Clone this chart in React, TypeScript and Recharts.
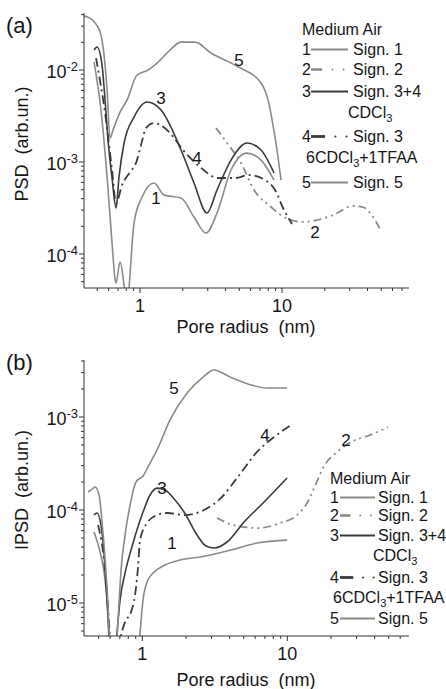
import React from 'react';
import { LineChart, Line, XAxis, YAxis } from 'recharts';

const FONT = '"Liberation Sans", Arial, sans-serif';
const GRAY = '#8a8a8a';
const DARK = '#3a3a3a';
const AXIS = '#333';
const TXT = '#151515';

// ---------- Panel (a): PSD ----------
const psd1: number[][] = [
  [0.4745, 0.01222], [0.531, 0.00367], [0.586, 0.000687], [0.635, 0.000132], [0.667, 5.35e-5],
  [0.678, 4.84e-5], [0.723, 8.18e-5], [0.81, 3.16e-5], [0.907, 0.000217], [1.033, 0.000417],
  [1.255, 0.000591], [1.476, 0.000438], [1.944, 0.000406], [2.40, 0.000252], [2.916, 0.000169],
  [3.485, 0.000279], [4.373, 0.000819], [5.668, 0.00125], [7.114, 0.00105], [8.785, 0.000637],
];
const psd2: number[][] = [
  [3.43, 0.00234], [4.10, 0.00161], [5.144, 0.000976], [6.35, 0.000497], [8.366, 0.000324],
  [10.33, 0.000252], [14.06, 0.000223], [16.53, 0.000229], [22.87, 0.000265], [31.6, 0.000333],
  [37.2, 0.000324], [43.75, 0.000252], [49.0, 0.000187],
];
const psd3: number[][] = [
  [0.4745, 0.0165], [0.498, 0.0178], [0.540, 0.01133], [0.567, 0.00472], [0.595, 0.00173],
  [0.635, 0.00067], [0.678, 0.000316], [0.711, 0.000687], [0.772, 0.00161], [0.907, 0.00308],
  [1.12, 0.00449], [1.406, 0.00367], [1.944, 0.00135], [2.40, 0.000591], [2.964, 0.000279],
  [3.485, 0.000497], [4.373, 0.00105], [5.668, 0.00161], [7.114, 0.00135], [8.785, 0.000759],
];
const psd4: number[][] = [
  [0.49, 0.0135], [0.567, 0.00341], [0.635, 0.000819], [0.678, 0.000358], [0.747, 0.000562],
  [0.85, 0.000778], [0.937, 0.000976], [1.016, 0.00153], [1.102, 0.00234], [1.255, 0.00265],
  [1.429, 0.00246], [1.626, 0.00207], [2.008, 0.00135], [2.646, 0.000883], [3.542, 0.00067],
  [4.667, 0.00067], [5.857, 0.000722], [7.59, 0.000637], [8.93, 0.000497], [10.33, 0.0003],
  [11.76, 0.000212],
];
const psd5: number[][] = [
  [0.403, 0.0386], [0.4445, 0.0367], [0.49, 0.0316], [0.531, 0.024], [0.558, 0.01455],
  [0.586, 0.00606], [0.615, 0.00182], [0.645, 0.00223], [0.723, 0.00349], [0.81, 0.00472],
  [0.952, 0.00883], [1.14, 0.01], [1.317, 0.0119], [1.626, 0.0165], [1.944, 0.0201],
  [2.44, 0.0201], [3.162, 0.0153], [4.82, 0.011], [7.11, 0.00722], [7.97, 0.00472],
  [8.64, 0.00252], [9.22, 0.00135], [9.84, 0.000637],
];

// ---------- Panel (b): IPSD ----------
const ipsd1: number[][] = [
  [0.4644, 5.8e-5], [0.503, 3.9e-5], [0.5444, 2.15e-5], [0.571, 1.08e-5], [0.5985, 3.13e-6],
  [0.78, 1e-7], [0.964, 4.75e-6], [1.011, 1.08e-5], [1.077, 1.68e-5], [1.204, 2.15e-5],
  [1.434, 2.56e-5], [1.82, 2.9e-5], [2.5, 3.13e-5], [3.17, 3.37e-5], [4.09, 3.72e-5],
  [6.18, 4.42e-5], [9.95, 4.75e-5],
];
const ipsd2: number[][] = [
  [3.275, 8.2e-5], [4.223, 6.9e-5], [6.28, 6.4e-5], [8.906, 7.24e-5], [11.67, 8.83e-5],
  [13.67, 1.19e-4], [15.28, 1.72e-4], [17.91, 2.97e-4], [22.02, 4.21e-4], [27.5, 5.38e-4],
  [37.2, 6.4e-4], [49.5, 7.8e-4],
];
const ipsd3: number[][] = [
  [0.4644, 8.83e-5], [0.487, 9.29e-5], [0.5275, 5.66e-5], [0.553, 2.44e-5], [0.58, 7.06e-6],
  [0.618, 9e-7], [0.669, 4.75e-6], [0.702, 1.08e-5], [0.76, 2.1e-5], [0.863, 4.42e-5],
  [1.011, 9.51e-5], [1.13, 1.45e-4], [1.263, 1.72e-4], [1.434, 1.64e-4], [1.681, 1.28e-4],
  [1.94, 9.51e-5], [2.384, 5.38e-5], [2.75, 4.1e-5], [3.123, 3.9e-5], [3.838, 4.53e-5],
  [5.028, 7.43e-5], [6.908, 1.22e-4], [9.95, 2.21e-4],
];
const ipsd4: number[][] = [
  [0.495, 6.9e-5], [0.553, 2.26e-5], [0.5985, 4.0e-6], [0.628, 9e-7], [0.703, 4.0e-6],
  [0.76, 6.25e-6], [0.836, 8.0e-6], [0.891, 1.22e-5], [0.934, 2.44e-5], [0.964, 4.75e-5],
  [1.077, 7.24e-5], [1.263, 8.83e-5], [1.48, 9.29e-5], [1.94, 8.83e-5], [2.665, 1.0e-4],
  [3.49, 1.35e-4], [4.499, 2.21e-4], [6.18, 4.21e-4], [8.096, 6.1e-4], [10.6, 8.2e-4],
];
const ipsd5: number[][] = [
  [0.422, 1.56e-4], [0.443, 1.64e-4], [0.472, 1.77e-4], [0.503, 1.45e-4], [0.5275, 7.43e-5],
  [0.571, 1.45e-5], [0.628, 9e-7], [0.68, 6.56e-6], [0.713, 2.26e-5], [0.76, 5.38e-5],
  [0.823, 1.13e-4], [0.905, 2.0e-4], [1.011, 2.32e-4], [1.112, 3.05e-4], [1.263, 4.42e-4],
  [1.552, 9.29e-4], [2.034, 1.81e-3], [2.622, 2.69e-3], [3.123, 3.2e-3], [4.025, 2.69e-3],
  [5.62, 2.21e-3], [7.244, 2.05e-3], [9.95, 2.05e-3],
];

// ---------- Axes ----------
const xDomainA: [number, number] = [0.403, 78.4];
const yDomainA: [number, number] = [4.27e-5, 0.0417];
const xDomainB: [number, number] = [0.396, 69];
const yDomainB: [number, number] = [4.42e-6, 4.1e-3];

const xTicksA = [0.5, 0.6, 0.7, 0.8, 0.9, 1, 2, 3, 4, 5, 6, 7, 8, 9, 10, 20, 30, 40, 50, 60, 70];
const xTicksB = [0.5, 0.6, 0.7, 0.8, 0.9, 1, 2, 3, 4, 5, 6, 7, 8, 9, 10, 20, 30, 40, 50, 60];
const yTicksA = [
  5e-5, 6e-5, 7e-5, 8e-5, 9e-5, 1e-4, 2e-4, 3e-4, 4e-4, 5e-4, 6e-4, 7e-4, 8e-4, 9e-4,
  1e-3, 2e-3, 3e-3, 4e-3, 5e-3, 6e-3, 7e-3, 8e-3, 9e-3, 1e-2, 2e-2, 3e-2, 4e-2,
];
const yTicksB = [
  5e-6, 6e-6, 7e-6, 8e-6, 9e-6, 1e-5, 2e-5, 3e-5, 4e-5, 5e-5, 6e-5, 7e-5, 8e-5, 9e-5,
  1e-4, 2e-4, 3e-4, 4e-4, 5e-4, 6e-4, 7e-4, 8e-4, 9e-4, 1e-3, 2e-3, 3e-3, 4e-3,
];

const styles: Record<number, { stroke: string; dash?: string; w: number }> = {
  1: { stroke: GRAY, w: 1.6 },
  2: { stroke: GRAY, dash: '8 4 2 4 2 4', w: 1.8 },
  3: { stroke: DARK, w: 1.6 },
  4: { stroke: DARK, dash: '9 4 2 4', w: 1.8 },
  5: { stroke: GRAY, w: 1.6 },
};

const toPts = (pairs: number[][]) => pairs.map(([r, v]) => ({ r, v }));

const isMajor = (v: number) => {
  const lg = Math.log10(v);
  return Math.abs(lg - Math.round(lg)) < 1e-6;
};

const YTick = (props: any) => {
  const { x, y, payload } = props;
  const v = payload.value;
  const maj = isMajor(v);
  const e = Math.round(Math.log10(v));
  return (
    <g>
      <line x1={x} x2={x - (maj ? 5 : 3)} y1={y} y2={y} stroke={AXIS} strokeWidth={1} />
      {maj && (
        <text x={x - 6} y={y + 8} textAnchor="end" fontSize={18} fill={TXT} fontFamily={FONT}>
          10<tspan dy={-7} fontSize={13}>{'-' + Math.abs(e)}</tspan>
        </text>
      )}
    </g>
  );
};

const XTick = (props: any) => {
  const { x, y, payload } = props;
  const v = payload.value;
  const maj = isMajor(v);
  return (
    <g>
      <line x1={x} x2={x} y1={y} y2={y + (maj ? 5 : 3)} stroke={AXIS} strokeWidth={1} />
      {maj && (
        <text x={x} y={y + 24} textAnchor="middle" fontSize={18} fill={TXT} fontFamily={FONT}>
          {String(v)}
        </text>
      )}
    </g>
  );
};

type PanelProps = {
  height: number;
  margin: { top: number; right: number; bottom: number; left: number };
  xDomain: [number, number];
  yDomain: [number, number];
  xTicks: number[];
  yTicks: number[];
  series: number[][][];
};

function Panel({ height, margin, xDomain, yDomain, xTicks, yTicks, series }: PanelProps) {
  return (
    <LineChart width={446} height={height} margin={margin}>
      <XAxis
        dataKey="r"
        type="number"
        scale="log"
        domain={xDomain}
        allowDataOverflow
        ticks={xTicks}
        interval={0}
        tick={XTick}
        tickLine={false}
        tickSize={0}
        tickMargin={0}
        height={30}
        axisLine={{ stroke: AXIS, strokeWidth: 1 }}
      />
      <YAxis
        type="number"
        scale="log"
        domain={yDomain}
        allowDataOverflow
        ticks={yTicks}
        interval={0}
        tick={YTick}
        tickLine={false}
        tickSize={0}
        tickMargin={0}
        width={40}
        axisLine={{ stroke: AXIS, strokeWidth: 1 }}
      />
      {series.map((s, i) => {
        const st = styles[i + 1];
        return (
          <Line
            key={i}
            data={toPts(s)}
            dataKey="v"
            type="monotone"
            stroke={st.stroke}
            strokeWidth={st.w}
            strokeDasharray={st.dash}
            dot={false}
            activeDot={false}
            isAnimationActive={false}
          />
        );
      })}
    </LineChart>
  );
}

const T = (p: any) => (
  <text fontFamily={FONT} fill={TXT} fontSize={16} style={{ whiteSpace: 'pre' }} {...p} />
);

function LegendBlock({ x0, top, rows, lineStart, lineEnd, textX }: any) {
  // rows: baselines for rows 1..5, CDCl3 baseline, TFAA baseline
  const [b1, b2, b3, b4, b5, bC, bT, xC, xT] = rows;
  const ly = (b: number) => b - 5.5;
  const L = lineEnd - lineStart;
  return (
    <g>
      <T x={x0} y={top}>Medium Air</T>
      <T x={x0} y={b1}>1</T>
      <line x1={lineStart} x2={lineEnd} y1={ly(b1)} y2={ly(b1)} stroke={GRAY} strokeWidth={1.8} />
      <T x={textX} y={b1}>Sign. 1</T>
      <T x={x0} y={b2}>2</T>
      <line x1={lineStart} x2={lineStart + L * 0.3} y1={ly(b2)} y2={ly(b2)} stroke={GRAY} strokeWidth={2.6} />
      <circle cx={lineStart + L * 0.58} cy={ly(b2)} r={1} fill={GRAY} />
      <circle cx={lineStart + L * 0.88} cy={ly(b2)} r={1} fill={GRAY} />
      <T x={textX} y={b2}>Sign. 2</T>
      <T x={x0} y={b3}>3</T>
      <line x1={lineStart} x2={lineEnd} y1={ly(b3)} y2={ly(b3)} stroke={DARK} strokeWidth={1.8} />
      <T x={textX} y={b3}>Sign. 3+4</T>
      <T x={xC} y={bC}>CDCl<tspan dy={4} fontSize={11}>3</tspan></T>
      <T x={x0} y={b4}>4</T>
      <line x1={lineStart} x2={lineStart + L * 0.38} y1={ly(b4)} y2={ly(b4)} stroke={DARK} strokeWidth={2.8} />
      <circle cx={lineStart + L * 0.66} cy={ly(b4)} r={1.1} fill={DARK} />
      <circle cx={lineStart + L * 0.96} cy={ly(b4)} r={1.1} fill={DARK} />
      <T x={textX} y={b4}>Sign. 3</T>
      <T x={xT} y={bT}>6CDCl<tspan dy={4} fontSize={11}>3</tspan><tspan dy={-4}>+1TFAA</tspan></T>
      <T x={x0} y={b5}>5</T>
      <line x1={lineStart} x2={lineEnd} y1={ly(b5)} y2={ly(b5)} stroke={GRAY} strokeWidth={1.8} />
      <T x={textX} y={b5}>Sign. 5</T>
    </g>
  );
}

export default function App() {
  return (
    <div style={{ position: 'absolute', left: 0, top: 0, width: 446, height: 689, background: '#fff' }}>
      <div style={{ position: 'absolute', left: 0, top: 0 }}>
        <Panel
          height={345}
          margin={{ top: 13, right: 37, bottom: 27, left: 44 }}
          xDomain={xDomainA}
          yDomain={yDomainA}
          xTicks={xTicksA}
          yTicks={yTicksA}
          series={[psd1, psd2, psd3, psd4, psd5]}
        />
      </div>
      <div style={{ position: 'absolute', left: 0, top: 345 }}>
        <Panel
          height={344}
          margin={{ top: 15, right: 37, bottom: 23, left: 44 }}
          xDomain={xDomainB}
          yDomain={yDomainB}
          xTicks={xTicksB}
          yTicks={yTicksB}
          series={[ipsd1, ipsd2, ipsd3, ipsd4, ipsd5]}
        />
      </div>
      <svg
        width={446}
        height={689}
        style={{ position: 'absolute', left: 0, top: 0, pointerEvents: 'none' }}
      >
        {/* panel (a) */}
        <T x={6} y={33} fontSize={22}>(a)</T>
        <T transform="translate(28,144) rotate(-90)" textAnchor="middle" fontSize={18}>PSD  (arb.un.)</T>
        <T x={246} y={333} textAnchor="middle" fontSize={18}>Pore radius  (nm)</T>
        <T x={239} y={66} textAnchor="middle" fontSize={17}>5</T>
        <T x={161} y={104} textAnchor="middle" fontSize={17}>3</T>
        <T x={197} y={164} textAnchor="middle" fontSize={17}>4</T>
        <T x={156} y={204} textAnchor="middle" fontSize={17}>1</T>
        <T x={315} y={238} textAnchor="middle" fontSize={17}>2</T>
        <LegendBlock
          x0={302}
          top={35}
          rows={[55, 75, 97, 142, 188, 118, 163, 348, 306]}
          lineStart={311}
          lineEnd={348}
          textX={353}
        />
        {/* panel (b) */}
        <T x={6} y={370} fontSize={22}>(b)</T>
        <T transform="translate(28,490) rotate(-90)" textAnchor="middle" fontSize={18}>IPSD  (arb.un.)</T>
        <T x={246} y={686} textAnchor="middle" fontSize={18}>Pore radius  (nm)</T>
        <T x={174} y={394} textAnchor="middle" fontSize={17}>5</T>
        <T x={162} y={494} textAnchor="middle" fontSize={17}>3</T>
        <T x={172} y={549} textAnchor="middle" fontSize={17}>1</T>
        <T x={265} y={441} textAnchor="middle" fontSize={17}>4</T>
        <T x={346} y={446} textAnchor="middle" fontSize={17}>2</T>
        <LegendBlock
          x0={330}
          top={484}
          rows={[503, 521, 541, 583, 624, 561, 603, 373, 333]}
          lineStart={340}
          lineEnd={375}
          textX={378}
        />
      </svg>
    </div>
  );
}
